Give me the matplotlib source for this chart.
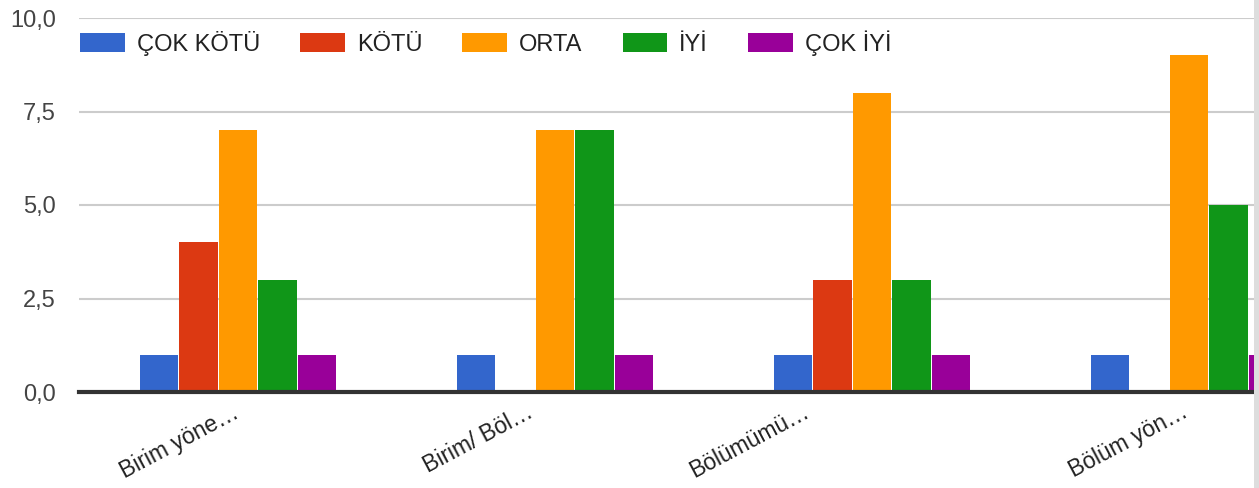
import numpy as np
import matplotlib
matplotlib.use("Agg")
from matplotlib import pyplot as plt
from matplotlib.patches import Rectangle
import matplotlib.transforms as mtransforms

plt.rcParams["font.family"] = ["Liberation Sans", "DejaVu Sans"]

# data
categories = ["Birim yöne…", "Birim/ Böl…", "Bölümümü…", "Bölüm yön…"]
series = ["ÇOK KÖTÜ", "KÖTÜ", "ORTA", "İYİ", "ÇOK İYİ"]
cok_kotu = [1, 1, 1, 1]
kotu = [4, 0, 3, 0]
orta = [7, 7, 8, 9]
iyi = [3, 7, 3, 5]
cok_iyi = [1, 1, 1, 1]
yticks = [0, 2.5, 5, 7.5, 10]
ytick_labels = ["0,0", "2,5", "5,0", "7,5", "10,0"]

colors = ["#3366cc", "#dc3912", "#ff9900", "#109618", "#990099"]
values = [cok_kotu, kotu, orta, iyi, cok_iyi]

W, H = 1259, 488
fig = plt.figure(figsize=(W / 100, H / 100), dpi=100)
# plot area runs past the right edge (chart is cut off in the reference)
ax = fig.add_axes([79.5 / W, 96 / H, 1268 / W, 374 / H])

x = np.arange(len(categories))
step = 0.125
for i, (name, vals) in enumerate(zip(series, values)):
    ax.bar(x + (i - 2) * step, vals, width=step - 0.004, color=colors[i],
           label=name, zorder=3)

fs = 17
ax.set_xlim(-0.5, 3.5)
ax.set_ylim(0, 10)
ax.set_yticks(yticks)
ax.set_yticklabels(ytick_labels, fontsize=fs, color="#444444")
ax.tick_params(axis="y", length=0, pad=17)
ax.grid(axis="y", color="#cccccc", linewidth=1.5, zorder=0)
for s in ["top", "right", "left"]:
    ax.spines[s].set_visible(False)
ax.spines["bottom"].set_color("#333333")
ax.spines["bottom"].set_linewidth(3)
ax.spines["bottom"].set_zorder(4)

ax.set_xticks(x)
ax.set_xticklabels(categories, fontsize=16.5, color="#222222", rotation=28,
                   ha="right", va="baseline", rotation_mode="anchor")
ax.tick_params(axis="x", length=0, pad=0)
# shift each label (pixels) so its end sits where it does in the reference
shifts = [(2, 25), (-20, 24), (-61, 24), (0, 24)]
for lab, (dx, dy) in zip(ax.get_xticklabels(), shifts):
    lab.set_transform(lab.get_transform() +
                      mtransforms.ScaledTranslation(dx / 100, -dy / 100, fig.dpi_scale_trans))

fig.legend(loc="upper left", bbox_to_anchor=(80 / W, 1 - 30 / H), ncol=5,
           frameon=False, fontsize=fs, borderpad=0, borderaxespad=0,
           handlelength=1.9, handleheight=0.9, handletextpad=0.5,
           columnspacing=1.7, labelcolor="#222222")

# grey border strip at the right edge
fig.add_artist(Rectangle((1254 / W, 0), 5 / W, 1, transform=fig.transFigure,
                         facecolor="#dddddd", edgecolor="none", zorder=10))

fig.savefig("out.png", dpi=100)
